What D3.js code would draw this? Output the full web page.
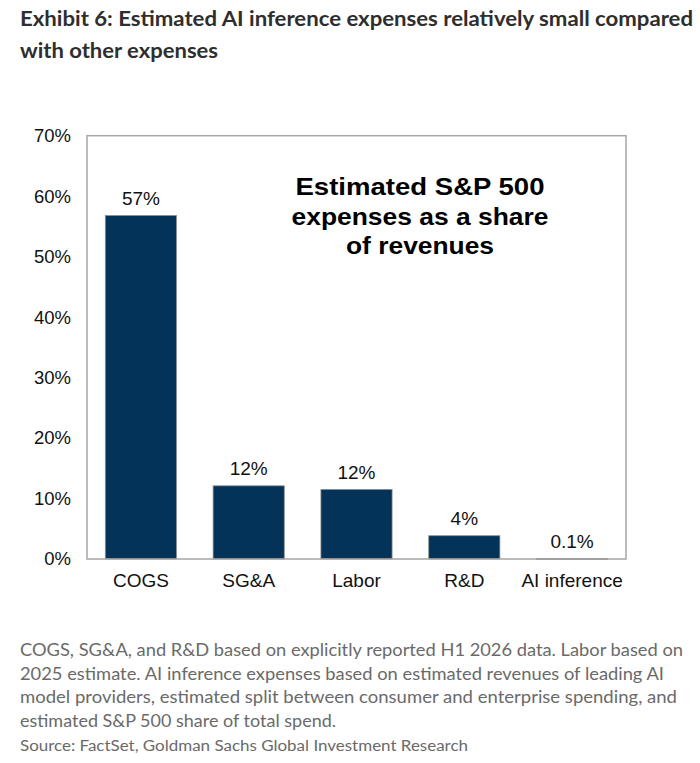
<!DOCTYPE html>
<html>
<head>
<meta charset="utf-8">
<script src="https://cdn.jsdelivr.net/npm/d3@7"></script>
<style>
  body { margin: 0; background: #fff; }
  svg { display: block; }
</style>
</head>
<body>
<div id="chart"></div>
<script>
// data
var categories = ["COGS", "SG&A", "Labor", "R&D", "AI inference"];
var shares = [56.8, 12.1, 11.5, 3.85, 0.1];
var shareLabels = ["57%", "12%", "12%", "4%", "0.1%"];
var yTicks = [0, 10, 20, 30, 40, 50, 60, 70];

var titleLines = [
    "Exhibit 6: Estimated AI inference expenses relatively small compared",
    "with other expenses"
];
var noteLines = [
    "COGS, SG&A, and R&D based on explicitly reported H1 2026 data. Labor based on",
    "2025 estimate. AI inference expenses based on estimated revenues of leading AI",
    "model providers, estimated split between consumer and enterprise spending, and",
    "estimated S&P 500 share of total spend."
];
var sourceLine = "Source: FactSet, Goldman Sachs Global Investment Research";
var boxLines = ["Estimated S&P 500", "expenses as a share", "of revenues"];

var W = 700, H = 763;
var plot = { left: 87, right: 626, top: 135.7, bottom: 559 };

var svg = d3.select("#chart").append("svg")
    .attr("width", W)
    .attr("height", H);

// squeeze text to the width it has in the reference
function fit(sel, w) {
    sel.each(function() {
        var len = this.getComputedTextLength();
        if (Math.abs(len - w) > 2) {
            d3.select(this).attr("textLength", w).attr("lengthAdjust", "spacingAndGlyphs");
        }
    });
}

// title
var titleWidths = [673, 198];
svg.selectAll("text.title")
    .data(titleLines)
    .enter()
    .append("text")
    .attr("class", "title")
    .attr("x", 20)
    .attr("y", (d, i) => 26 + i * 32)
    .style("font-family", "Lato, 'Open Sans', sans-serif")
    .style("font-weight", "bold")
    .style("font-size", "21px")
    .style("fill", "#2e2e2e")
    .text(d => d)
    .each(function(d, i) { fit(d3.select(this), titleWidths[i]); });

var x = d3.scaleBand()
    .domain(categories)
    .range([plot.left, plot.right])
    .paddingInner(0.34)
    .paddingOuter(0.17);

var y = d3.scaleLinear()
    .domain([0, 70])
    .range([plot.bottom, plot.top]);

// y axis labels
var yAxis = svg.append("g")
    .attr("transform", "translate(" + plot.left + ",0)")
    .call(d3.axisLeft(y).tickValues(yTicks).tickSize(0).tickPadding(16).tickFormat(d => d + "%"));
yAxis.select(".domain").remove();
yAxis.selectAll("text")
    .style("font-family", "'Liberation Sans', Arial, sans-serif")
    .style("font-size", "18.5px")
    .style("fill", "#111");

// bars
svg.append("g")
    .selectAll("rect")
    .data(shares)
    .enter()
    .append("rect")
    .attr("x", (d, i) => x(categories[i]))
    .attr("width", x.bandwidth())
    .attr("y", d => y(d))
    .attr("height", d => Math.max(1, y(0) - y(d)))
    .attr("fill", "#033359")
    .attr("stroke", "#8c8c8c")
    .attr("stroke-width", 0.8);

// value labels
svg.append("g")
    .selectAll("text")
    .data(shares)
    .enter()
    .append("text")
    .attr("x", (d, i) => x(categories[i]) + x.bandwidth() / 2)
    .attr("y", d => y(d) - 10.5)
    .attr("text-anchor", "middle")
    .style("font-family", "'Liberation Sans', Arial, sans-serif")
    .style("font-size", "19px")
    .style("fill", "#111")
    .text((d, i) => shareLabels[i]);

// plot frame
svg.append("rect")
    .attr("x", plot.left)
    .attr("y", plot.top)
    .attr("width", plot.right - plot.left)
    .attr("height", plot.bottom - plot.top)
    .attr("fill", "none")
    .attr("stroke", "#a6a6a6")
    .attr("stroke-width", 1.5);

// x axis labels
var xAxis = svg.append("g")
    .attr("transform", "translate(0," + plot.bottom + ")")
    .call(d3.axisBottom(x).tickSize(0).tickPadding(15));
xAxis.select(".domain").remove();
xAxis.selectAll("text")
    .style("font-family", "'Liberation Sans', Arial, sans-serif")
    .style("font-size", "19px")
    .style("fill", "#111");

// annotation inside the plot
var boxWidths = [249, 257, 148];
svg.append("g")
    .selectAll("text")
    .data(boxLines)
    .enter()
    .append("text")
    .attr("x", 420)
    .attr("y", (d, i) => 195 + i * 29.5)
    .attr("text-anchor", "middle")
    .style("font-family", "'Liberation Sans', Arial, sans-serif")
    .style("font-weight", "bold")
    .style("font-size", "24.5px")
    .style("fill", "#000")
    .text(d => d)
    .each(function(d, i) { fit(d3.select(this), boxWidths[i]); });

// footnote and source
var noteWidths = [663, 644, 657, 316];
svg.selectAll("text.note")
    .data(noteLines)
    .enter()
    .append("text")
    .attr("class", "note")
    .attr("x", 20)
    .attr("y", (d, i) => 656 + i * 23.7)
    .style("font-family", "Lato, 'Open Sans', sans-serif")
    .style("font-size", "16.5px")
    .style("fill", "#6a6a6a")
    .text(d => d)
    .each(function(d, i) { fit(d3.select(this), noteWidths[i]); });

svg.append("text")
    .attr("x", 20)
    .attr("y", 751)
    .style("font-family", "Lato, 'Open Sans', sans-serif")
    .style("font-size", "15.5px")
    .style("fill", "#6a6a6a")
    .text(sourceLine)
    .call(fit, 448);
</script>
</body>
</html>
